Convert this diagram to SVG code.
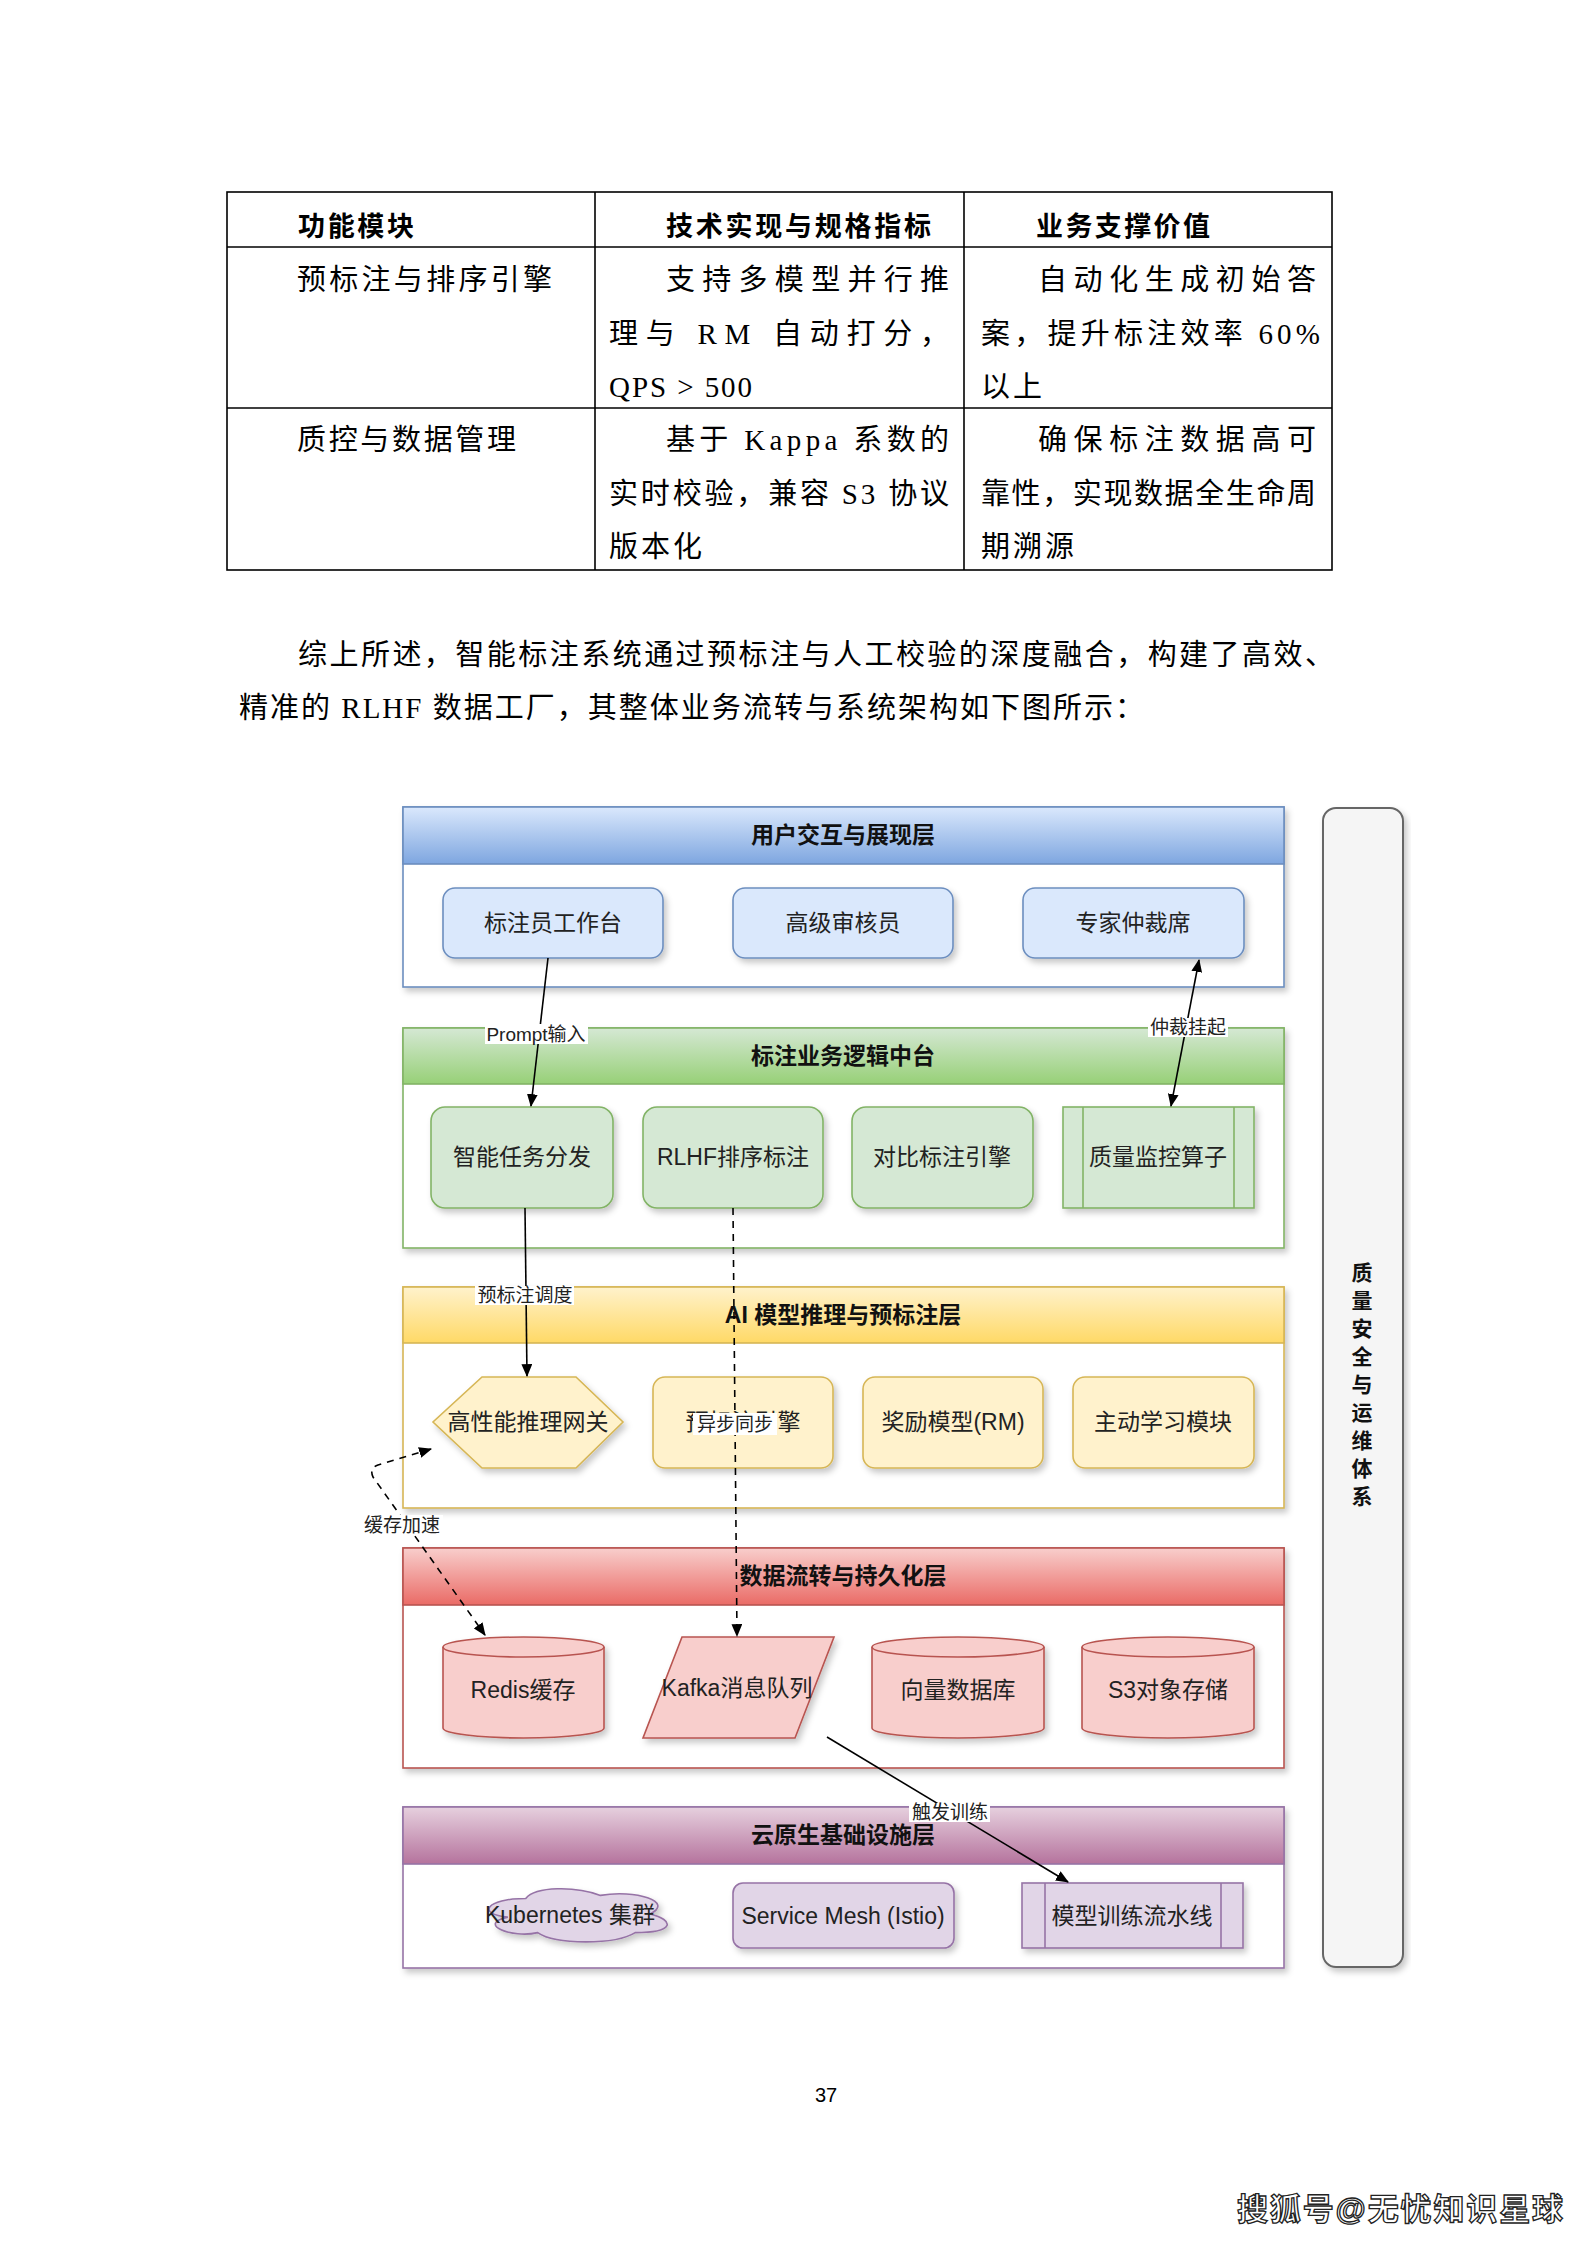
<svg xmlns="http://www.w3.org/2000/svg" width="1587" height="2245" viewBox="0 0 1587 2245">
<defs>
<style>
.tb{font-family:"Liberation Serif","Noto Sans CJK SC",serif;font-size:29px;fill:#000}
.th{font-family:"Liberation Serif","Noto Sans CJK SC",serif;font-size:27px;font-weight:bold;fill:#000}
.ttl{font-family:"Liberation Sans","Noto Sans CJK SC",sans-serif;font-size:23px;font-weight:bold;fill:#111;text-anchor:middle;dominant-baseline:central}
.nt{font-family:"Liberation Sans","Noto Sans CJK SC",sans-serif;font-size:23px;fill:#222;text-anchor:middle;dominant-baseline:central}
.lb{font-family:"Liberation Sans","Noto Sans CJK SC",sans-serif;font-size:19px;fill:#222;text-anchor:middle;dominant-baseline:central}
.cn{fill:none;stroke:#000;stroke-width:1.6}
.dash{stroke-dasharray:7 6}
.layer{fill:#fff}
</style>
<filter id="sh" x="-5%" y="-5%" width="115%" height="125%">
<feDropShadow dx="3" dy="4" stdDeviation="3" flood-color="#000" flood-opacity="0.22"/>
</filter>
<marker id="ah" viewBox="0 0 12 10" refX="11" refY="5" markerWidth="13" markerHeight="11" markerUnits="userSpaceOnUse" orient="auto-start-reverse">
<path d="M0,0 L12,5 L0,10 Z" fill="#000"/>
</marker>
<linearGradient id="gB" x1="0" y1="0" x2="0" y2="1"><stop offset="0" stop-color="#dae8fc"/><stop offset="1" stop-color="#7ea6e0"/></linearGradient>
<linearGradient id="gG" x1="0" y1="0" x2="0" y2="1"><stop offset="0" stop-color="#d5e8d4"/><stop offset="1" stop-color="#97d077"/></linearGradient>
<linearGradient id="gY" x1="0" y1="0" x2="0" y2="1"><stop offset="0" stop-color="#fff2cc"/><stop offset="1" stop-color="#ffd966"/></linearGradient>
<linearGradient id="gR" x1="0" y1="0" x2="0" y2="1"><stop offset="0" stop-color="#f8cecc"/><stop offset="1" stop-color="#ea6b66"/></linearGradient>
<linearGradient id="gP" x1="0" y1="0" x2="0" y2="1"><stop offset="0" stop-color="#e6d0de"/><stop offset="1" stop-color="#b5739d"/></linearGradient>
</defs>
<rect width="1587" height="2245" fill="#fff"/>

<!-- Table -->
<g id="table" fill="none" stroke="#000" stroke-width="1.6">
<rect x="227" y="192" width="1105" height="378"/>
<line x1="227" y1="247" x2="1332" y2="247"/>
<line x1="227" y1="408" x2="1332" y2="408"/>
<line x1="595" y1="192" x2="595" y2="570"/>
<line x1="964" y1="192" x2="964" y2="570"/>
</g>
<g id="table-text">
<text class="th" x="298" y="236" textLength="116">功能模块</text>
<text class="th" x="666" y="236" textLength="265">技术实现与规格指标</text>
<text class="th" x="1036" y="236" textLength="174">业务支撑价值</text>
<text class="tb" x="297" y="290" textLength="255">预标注与排序引擎</text>
<text class="tb" x="666" y="290" textLength="283">支持多模型并行推</text>
<text class="tb" x="609" y="344" textLength="340">理与 RM 自动打分，</text>
<text class="tb" x="609" y="397" textLength="143">QPS &gt; 500</text>
<text class="tb" x="1038" y="290" textLength="278">自动化生成初始答</text>
<text class="tb" x="981" y="344" textLength="339">案，提升标注效率 60%</text>
<text class="tb" x="981" y="397" textLength="61">以上</text>
<text class="tb" x="297" y="450" textLength="219">质控与数据管理</text>
<text class="tb" x="666" y="450" textLength="283">基于 Kappa 系数的</text>
<text class="tb" x="609" y="504" textLength="340">实时校验，兼容 S3 协议</text>
<text class="tb" x="609" y="557" textLength="93">版本化</text>
<text class="tb" x="1038" y="450" textLength="278">确保标注数据高可</text>
<text class="tb" x="981" y="504" textLength="335">靠性，实现数据全生命周</text>
<text class="tb" x="981" y="557" textLength="93">期溯源</text>
</g>
<g id="paragraph">
<text class="tb" x="298" y="665" textLength="1036">综上所述，智能标注系统通过预标注与人工校验的深度融合，构建了高效、</text>
<text class="tb" x="239" y="718" textLength="905">精准的 RLHF 数据工厂，其整体业务流转与系统架构如下图所示：</text>
</g>

<!-- Side bar -->
<g id="side-bar">
<rect x="1323" y="808" width="80" height="1159" rx="13" fill="#f5f5f5" stroke="#666" stroke-width="2" filter="url(#sh)"/>
<text font-family="'Liberation Sans','Noto Sans CJK SC',sans-serif" font-size="21" font-weight="bold" fill="#111" text-anchor="middle" dominant-baseline="central">
<tspan x="1362" y="1272">质</tspan><tspan x="1362" y="1300">量</tspan><tspan x="1362" y="1328">安</tspan><tspan x="1362" y="1356">全</tspan><tspan x="1362" y="1384">与</tspan><tspan x="1362" y="1412">运</tspan><tspan x="1362" y="1440">维</tspan><tspan x="1362" y="1468">体</tspan><tspan x="1362" y="1496">系</tspan>
</text>
</g>

<!-- Layer 1 -->
<g id="layer-ui">
<rect class="layer" x="403" y="807" width="881" height="180" stroke="#6c8ebf" stroke-width="1.6" filter="url(#sh)"/>
<rect x="403" y="807" width="881" height="57" fill="url(#gB)" stroke="#6c8ebf" stroke-width="1.6"/>
<text class="ttl" x="843" y="835">用户交互与展现层</text>
</g>
<g id="node-annotator"><rect x="443" y="888" width="220" height="70" rx="12" fill="#dae8fc" stroke="#6c8ebf" stroke-width="1.6" filter="url(#sh)"/><text class="nt" x="553" y="923">标注员工作台</text></g>
<g id="node-reviewer"><rect x="733" y="888" width="220" height="70" rx="12" fill="#dae8fc" stroke="#6c8ebf" stroke-width="1.6" filter="url(#sh)"/><text class="nt" x="843" y="923">高级审核员</text></g>
<g id="node-expert"><rect x="1023" y="888" width="221" height="70" rx="12" fill="#dae8fc" stroke="#6c8ebf" stroke-width="1.6" filter="url(#sh)"/><text class="nt" x="1133" y="923">专家仲裁席</text></g>

<!-- Layer 2 -->
<g id="layer-logic">
<rect class="layer" x="403" y="1028" width="881" height="220" stroke="#82b366" stroke-width="1.6" filter="url(#sh)"/>
<rect x="403" y="1028" width="881" height="56" fill="url(#gG)" stroke="#82b366" stroke-width="1.6"/>
<text class="ttl" x="843" y="1056">标注业务逻辑中台</text>
</g>
<g id="node-dispatch"><rect x="431" y="1107" width="182" height="101" rx="14" fill="#d5e8d4" stroke="#82b366" stroke-width="1.6" filter="url(#sh)"/><text class="nt" x="522" y="1157">智能任务分发</text></g>
<g id="node-rlhf"><rect x="643" y="1107" width="180" height="101" rx="14" fill="#d5e8d4" stroke="#82b366" stroke-width="1.6" filter="url(#sh)"/><text class="nt" x="733" y="1157">RLHF排序标注</text></g>
<g id="node-compare"><rect x="852" y="1107" width="181" height="101" rx="14" fill="#d5e8d4" stroke="#82b366" stroke-width="1.6" filter="url(#sh)"/><text class="nt" x="942" y="1157">对比标注引擎</text></g>
<g id="node-quality"><rect x="1063" y="1107" width="191" height="101" fill="#d5e8d4" stroke="#82b366" stroke-width="1.6" filter="url(#sh)"/><line x1="1083" y1="1107" x2="1083" y2="1208" stroke="#82b366" stroke-width="1.6"/><line x1="1234" y1="1107" x2="1234" y2="1208" stroke="#82b366" stroke-width="1.6"/><text class="nt" x="1158" y="1157">质量监控算子</text></g>

<!-- Layer 3 -->
<g id="layer-ai">
<rect class="layer" x="403" y="1287" width="881" height="221" stroke="#d6b656" stroke-width="1.6" filter="url(#sh)"/>
<rect x="403" y="1287" width="881" height="56" fill="url(#gY)" stroke="#d6b656" stroke-width="1.6"/>
<text class="ttl" x="843" y="1315">AI 模型推理与预标注层</text>
</g>
<g id="node-gateway"><polygon points="482,1377 576,1377 623,1422 576,1468 482,1468 433,1422" fill="#fff2cc" stroke="#d6b656" stroke-width="1.6" filter="url(#sh)"/><text class="nt" x="528" y="1422">高性能推理网关</text></g>
<g id="node-prelabel"><rect x="653" y="1377" width="180" height="91" rx="12" fill="#fff2cc" stroke="#d6b656" stroke-width="1.6" filter="url(#sh)"/><text class="nt" x="743" y="1422">预标注引擎</text></g>
<g id="node-rm"><rect x="863" y="1377" width="180" height="91" rx="12" fill="#fff2cc" stroke="#d6b656" stroke-width="1.6" filter="url(#sh)"/><text class="nt" x="953" y="1422">奖励模型(RM)</text></g>
<g id="node-active"><rect x="1073" y="1377" width="181" height="91" rx="12" fill="#fff2cc" stroke="#d6b656" stroke-width="1.6" filter="url(#sh)"/><text class="nt" x="1163" y="1422">主动学习模块</text></g>

<!-- Layer 4 -->
<g id="layer-data">
<rect class="layer" x="403" y="1548" width="881" height="220" stroke="#b85450" stroke-width="1.6" filter="url(#sh)"/>
<rect x="403" y="1548" width="881" height="57" fill="url(#gR)" stroke="#b85450" stroke-width="1.6"/>
<text class="ttl" x="843" y="1576">数据流转与持久化层</text>
</g>
<g id="node-redis"><path d="M443,1647 A80.5,10 0 0 1 604,1647 L604,1728 A80.5,10 0 0 1 443,1728 Z" fill="#f8cecc" stroke="#b85450" stroke-width="1.6" filter="url(#sh)"/><path d="M443,1647 A80.5,10 0 0 0 604,1647" fill="none" stroke="#b85450" stroke-width="1.6"/><text class="nt" x="523" y="1690">Redis缓存</text></g>
<g id="node-kafka"><polygon points="682,1637 834,1637 795,1738 643,1738" fill="#f8cecc" stroke="#b85450" stroke-width="1.6" filter="url(#sh)"/><text class="nt" x="737" y="1688">Kafka消息队列</text></g>
<g id="node-vector"><path d="M872,1647 A86,10 0 0 1 1044,1647 L1044,1728 A86,10 0 0 1 872,1728 Z" fill="#f8cecc" stroke="#b85450" stroke-width="1.6" filter="url(#sh)"/><path d="M872,1647 A86,10 0 0 0 1044,1647" fill="none" stroke="#b85450" stroke-width="1.6"/><text class="nt" x="958" y="1690">向量数据库</text></g>
<g id="node-s3"><path d="M1082,1647 A86,10 0 0 1 1254,1647 L1254,1728 A86,10 0 0 1 1082,1728 Z" fill="#f8cecc" stroke="#b85450" stroke-width="1.6" filter="url(#sh)"/><path d="M1082,1647 A86,10 0 0 0 1254,1647" fill="none" stroke="#b85450" stroke-width="1.6"/><text class="nt" x="1168" y="1690">S3对象存储</text></g>

<!-- Layer 5 -->
<g id="layer-infra">
<rect class="layer" x="403" y="1807" width="881" height="161" stroke="#9673a6" stroke-width="1.6" filter="url(#sh)"/>
<rect x="403" y="1807" width="881" height="57" fill="url(#gP)" stroke="#9673a6" stroke-width="1.6"/>
<text class="ttl" x="843" y="1835">云原生基础设施层</text>
</g>
<g id="node-k8s"><path d="M525.75,1898.5 C485.95,1898.5 476,1914 507.84,1917.1 C476,1923.9 511.82,1938.8 537.69,1932.6 C555.6,1945 615.3,1945 635.2,1932.6 C675,1932.6 675,1920.2 650.1,1914 C675,1901.6 635.2,1889.2 600.4,1895.4 C575.5,1886.1 535.7,1886.1 525.75,1898.5 Z" fill="#e1d5e7" stroke="#9673a6" stroke-width="1.6" filter="url(#sh)"/><text class="nt" x="570" y="1915" font-size="22">Kubernetes 集群</text></g>
<g id="node-mesh"><rect x="733" y="1883" width="221" height="65" rx="10" fill="#e1d5e7" stroke="#9673a6" stroke-width="1.6" filter="url(#sh)"/><text class="nt" x="843" y="1916" font-size="22">Service Mesh (Istio)</text></g>
<g id="node-pipeline"><rect x="1022" y="1883" width="221" height="65" fill="#e1d5e7" stroke="#9673a6" stroke-width="1.6" filter="url(#sh)"/><line x1="1045" y1="1883" x2="1045" y2="1948" stroke="#9673a6" stroke-width="1.6"/><line x1="1221" y1="1883" x2="1221" y2="1948" stroke="#9673a6" stroke-width="1.6"/><text class="nt" x="1132" y="1916">模型训练流水线</text></g>

<!-- Connectors -->
<g id="connectors">
<path class="cn" d="M548,958 L531,1106" marker-end="url(#ah)"/>
<path class="cn" d="M1199,960 L1171,1106" marker-start="url(#ah)" marker-end="url(#ah)"/>
<path class="cn" d="M525,1208 L527,1376" marker-end="url(#ah)"/>
<path class="cn dash" d="M733,1208 L737,1636" marker-end="url(#ah)"/>
<path class="cn dash" d="M431,1449 L378,1465 Q369,1468 373,1477 L485,1635" marker-start="url(#ah)" marker-end="url(#ah)"/>
<path class="cn" d="M827,1737 L1068,1882" marker-end="url(#ah)"/>
<g id="labels">
<rect x="485" y="1024" width="103" height="20" fill="#fff"/><text class="lb" x="536" y="1034">Prompt输入</text>
<rect x="1148" y="1018" width="80" height="19" fill="#fff"/><text class="lb" x="1188" y="1027">仲裁挂起</text>
<rect x="475" y="1286" width="99" height="19" fill="#fff"/><text class="lb" x="525" y="1295">预标注调度</text>
<rect x="693" y="1413" width="84" height="22" fill="#fff"/><text class="lb" x="735" y="1424" font-size="20">异步同步</text>
<rect x="362" y="1515" width="81" height="20" fill="#fff"/><text class="lb" x="402" y="1525">缓存加速</text>
<rect x="909" y="1803" width="81" height="19" fill="#fff"/><text class="lb" x="950" y="1812">触发训练</text>
</g>
</g>

<text x="826" y="2102" font-family="'Liberation Sans',sans-serif" font-size="20" fill="#000" text-anchor="middle">37</text>
<text x="1237" y="2220" font-family="'Liberation Sans','Noto Sans CJK SC',sans-serif" font-size="31" font-weight="bold" fill="#fff" stroke="#222" stroke-width="1.3" textLength="326">搜狐号@无忧知识星球</text>
</svg>
